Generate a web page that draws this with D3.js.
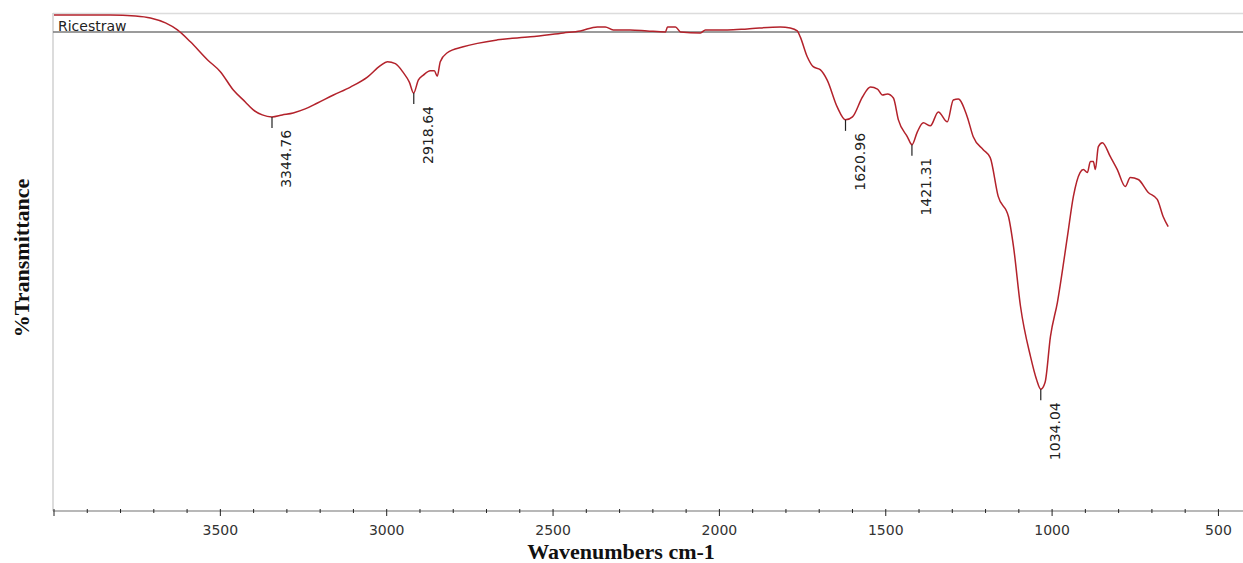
<!DOCTYPE html>
<html>
<head>
<meta charset="utf-8">
<title>Ricestraw FTIR</title>
<script src="https://cdn.jsdelivr.net/npm/d3@7"></script>
<style>
  html, body { margin: 0; padding: 0; background: #fff; }
  svg { display: block; }
</style>
</head>
<body>
<div id="chart"></div>
<script>
// spectrum: wavenumber (cm-1) and %T
var wavenumbers = [4000, 3920, 3831, 3755, 3710, 3665, 3629, 3590, 3539, 3500,
  3461, 3425, 3401, 3374, 3345, 3314, 3281, 3245, 3208, 3160,
  3109, 3058, 3019, 2998, 2974, 2950, 2932, 2919, 2905, 2890,
  2869, 2857, 2848, 2839, 2818, 2770, 2667, 2568, 2469, 2418,
  2367, 2343, 2319, 2268, 2217, 2162, 2156, 2132, 2117, 2057,
  2042, 1976, 1916, 1817, 1787, 1766, 1757, 1736, 1718, 1697,
  1676, 1646, 1621, 1600, 1570, 1546, 1525, 1510, 1495, 1477,
  1462, 1435, 1421, 1405, 1387, 1366, 1342, 1315, 1297, 1282,
  1255, 1237, 1207, 1186, 1162, 1131, 1116, 1095, 1065, 1047,
  1034, 1021, 1005, 984, 954, 936, 916, 906, 894, 885,
  876, 870, 861, 849, 825, 804, 780, 765, 741, 711,
  684, 666, 651];
var transmittance = [99.8, 99.8, 99.8, 99.6, 99.2, 98.2, 96.8, 94.4, 90.8, 88.4,
  84.7, 82.3, 80.7, 79.7, 79.3, 79.7, 80.1, 80.9, 82.1, 83.7,
  85.3, 87.3, 89.6, 90.4, 90.0, 88.2, 86.3, 84.1, 86.7, 87.7,
  88.6, 88.6, 87.5, 90.4, 92.2, 93.4, 94.8, 95.4, 96.2, 96.6,
  97.4, 97.4, 96.8, 96.8, 96.6, 96.4, 97.4, 97.4, 96.4, 96.2,
  96.8, 96.8, 97.0, 97.4, 97.2, 96.6, 95.4, 91.4, 89.4, 88.8,
  86.7, 81.3, 78.7, 79.3, 83.3, 85.3, 84.9, 83.7, 83.9, 83.1,
  78.7, 75.3, 73.7, 76.3, 78.1, 77.5, 80.3, 78.3, 82.7, 82.9,
  79.3, 75.3, 72.7, 71.1, 63.3, 59.2, 53.2, 41.2, 31.1, 26.5,
  24.5, 25.9, 35.1, 42.0, 55.2, 63.3, 68.1, 68.7, 68.1, 70.3,
  70.3, 68.7, 73.3, 74.1, 71.3, 68.7, 65.3, 67.1, 66.7, 64.1,
  62.7, 59.2, 57.2];

// labelled peaks
var peakWavenumbers = [3344.76, 2918.64, 1620.96, 1421.31, 1034.04];
var peakTransmittance = [79.3, 84.1, 78.7, 73.7, 24.5];

var xTickValues = [3500, 3000, 2500, 2000, 1500, 1000, 500];
var seriesName = 'Ricestraw';

var width = 1243, height = 563;
var plotLeft = 54, plotTop = 14, plotBottom = 511;
var lineColor = '#b3222b';
var labelFont = '"DejaVu Sans", Arial, sans-serif';
var titleFont = '"Liberation Serif", "Times New Roman", serif';

var svg = d3.select('#chart').append('svg')
    .attr('width', width)
    .attr('height', height)
    .attr('viewBox', [0, 0, width, height]);

var x = d3.scaleLinear().domain([4000, 400]).range([plotLeft, plotLeft + 3600 * 0.3327]);
var y = d3.scaleLinear().domain([0, 100]).range([plotBottom, plotTop]);

// frame
svg.append('line')
    .attr('x1', plotLeft - 1).attr('x2', width)
    .attr('y1', plotTop - 0.5).attr('y2', plotTop - 0.5)
    .attr('stroke', '#dcdcdc').attr('stroke-width', 1.5);
svg.append('line')
    .attr('x1', plotLeft - 1).attr('x2', plotLeft - 1)
    .attr('y1', plotTop - 1).attr('y2', plotBottom)
    .attr('stroke', '#d0d0d0').attr('stroke-width', 1.5);

// legend bar
svg.append('line')
    .attr('x1', plotLeft - 1).attr('x2', width)
    .attr('y1', 32).attr('y2', 32)
    .attr('stroke', '#7a7a7a').attr('stroke-width', 1.5);
svg.append('text')
    .attr('x', 58).attr('y', 30.5)
    .attr('font-family', labelFont)
    .attr('font-size', '14px')
    .attr('fill', '#222')
    .text(seriesName);

// x axis
var minorTicks = d3.range(4000, 399, -100);
var axis = svg.append('g').attr('class', 'x-axis');
axis.append('line')
    .attr('x1', plotLeft - 1).attr('x2', width)
    .attr('y1', plotBottom).attr('y2', plotBottom)
    .attr('stroke', '#b8b8b8').attr('stroke-width', 2);
axis.selectAll('line.minor')
    .data(minorTicks)
    .enter().append('line').attr('class', 'minor')
    .attr('x1', d => x(d)).attr('x2', d => x(d))
    .attr('y1', plotBottom - 2)
    .attr('y2', d => (d % 500 === 0) ? plotBottom + 5 : plotBottom + 2)
    .attr('stroke', '#222').attr('stroke-width', 1);
axis.selectAll('text')
    .data(xTickValues)
    .enter().append('text')
    .attr('x', d => x(d))
    .attr('y', plotBottom + 24)
    .attr('text-anchor', 'middle')
    .attr('font-family', labelFont)
    .attr('font-size', '14px')
    .attr('fill', '#333')
    .text(d => d);

// axis titles
svg.append('text')
    .attr('x', 621).attr('y', 559)
    .attr('text-anchor', 'middle')
    .attr('font-family', titleFont)
    .attr('font-weight', 'bold')
    .attr('font-size', '22px')
    .attr('fill', '#111')
    .text('Wavenumbers cm-1');
svg.append('text')
    .attr('transform', 'translate(29,258) rotate(-90)')
    .attr('text-anchor', 'middle')
    .attr('font-family', titleFont)
    .attr('font-weight', 'bold')
    .attr('font-size', '22px')
    .attr('fill', '#111')
    .text('%Transmittance');

// spectrum
var points = wavenumbers.map((w, i) => [w, transmittance[i]]);
var line = d3.line()
    .x(d => x(d[0]))
    .y(d => y(d[1]))
    .curve(d3.curveMonotoneX);
svg.append('path')
    .datum(points)
    .attr('d', line)
    .attr('fill', 'none')
    .attr('stroke', lineColor)
    .attr('stroke-width', 1.5)
    .attr('stroke-linejoin', 'round');

// peak markers
var peaks = peakWavenumbers.map((w, i) => ({w: w, t: peakTransmittance[i]}));
var pg = svg.selectAll('g.peak')
    .data(peaks)
    .enter().append('g').attr('class', 'peak');
pg.append('line')
    .attr('x1', d => x(d.w)).attr('x2', d => x(d.w))
    .attr('y1', d => y(d.t)).attr('y2', d => y(d.t) + 11)
    .attr('stroke', '#222').attr('stroke-width', 1.2);
pg.append('text')
    .attr('transform', d => 'translate(' + (x(d.w) + 19) + ',' + (y(d.t) + 13) + ') rotate(-90)')
    .attr('text-anchor', 'end')
    .attr('font-family', labelFont)
    .attr('font-size', '14px')
    .attr('fill', '#222')
    .text(d => d.w.toFixed(2));
</script>
</body>
</html>
